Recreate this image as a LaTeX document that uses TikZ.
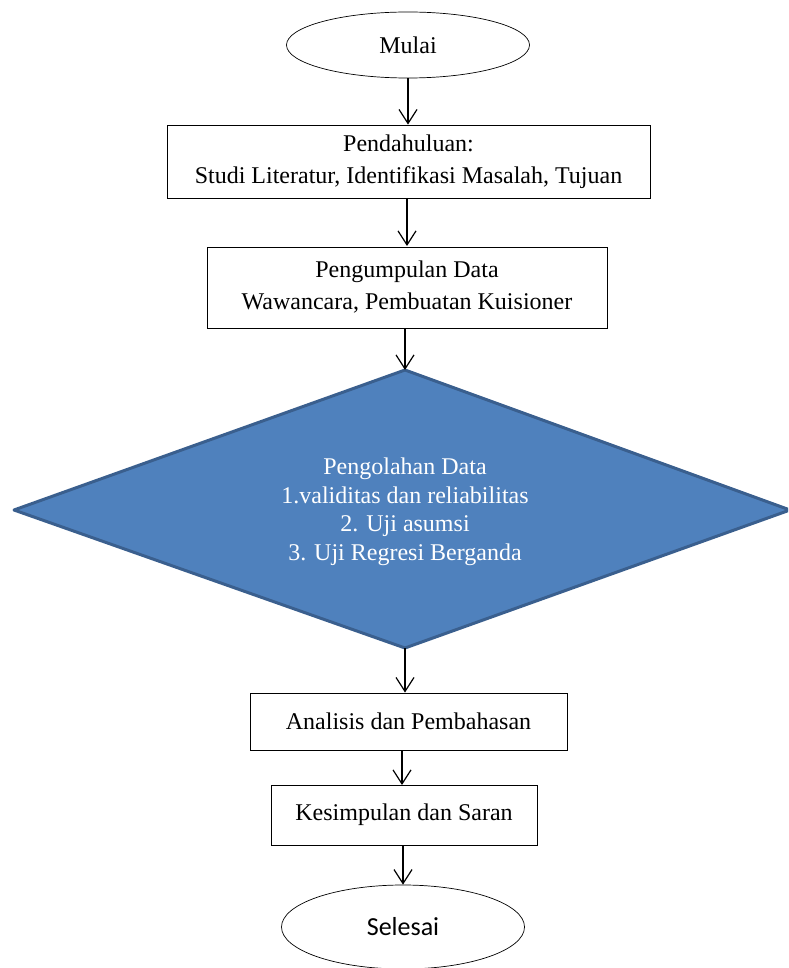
\documentclass[tikz,border=0pt]{standalone}
\usepackage{fontspec}
\setmainfont{Liberation Serif}
\newfontfamily\calib{Carlito}
\usetikzlibrary{arrows.meta,shapes.geometric}
\definecolor{dfill}{HTML}{4F81BD}
\definecolor{dline}{HTML}{3A5F8E}
\tikzset{
  boxnode/.style={draw=black, line width=0.9pt, rectangle, align=center, inner sep=0pt, font=\fontsize{24}{32}\selectfont},
  ovalnode/.style={draw=black, line width=0.7pt, ellipse, inner sep=0pt, font=\fontsize{24}{32}\selectfont},
  arr/.style={line width=1.2pt, -{Straight Barb[length=14pt,width=18pt,line width=1.2pt]}},
}
\begin{document}
\begin{tikzpicture}[x=1pt,y=-1pt]
\useasboundingbox (0,0) rectangle (788,968);
\clip (0,0) rectangle (788,968);
\node[ovalnode, minimum width=243pt, minimum height=66pt] (m) at (408,45) {Mulai};
\node[boxnode, minimum width=483pt, minimum height=73pt] (r1) at (408.5,161.5) {Pendahuluan:\\ Studi Literatur, Identifikasi Masalah, Tujuan};
\node[boxnode, minimum width=400pt, minimum height=81pt] (r2) at (407,287.5) {Pengumpulan Data\\ Wawancara, Pembuatan Kuisioner};
\coordinate (dt) at (405,370);
\coordinate (dr) at (790,510);
\coordinate (db) at (405,648);
\coordinate (dl) at (14,510);
\draw[fill=dfill, draw=dline, line width=3pt, line join=round] (dt) -- (dr) -- (db) -- (dl) -- cycle;
\node[align=center, text=white, font=\fontsize{24}{28.5}\selectfont] (dtext) at (405,512) {Pengolahan Data\\ 1.validitas dan reliabilitas\\ 2. Uji asumsi\\ 3. Uji Regresi Berganda};
\node[boxnode, minimum width=317pt, minimum height=57pt] (r3) at (408.5,721.5) {Analisis dan Pembahasan};
\node[boxnode, minimum width=266pt, minimum height=60pt] (r4) at (404,815) {Kesimpulan dan Saran};
\node[ovalnode, minimum width=243pt, minimum height=84pt, font=\calib\fontsize{26}{30}\selectfont] (s) at (403,927) {Selesai};
\draw[arr] (m.south) -- (m.south |- r1.north);
\draw[arr] (407,198) -- (407,246);
\draw[arr] (r2.south -| dt) -- (dt);
\draw[arr] (db) -- (db |- r3.north);
\draw[arr] (402,750) -- (402,785);
\draw[arr] (r4.south -| s.north) -- (s.north);
\end{tikzpicture}
\end{document}
